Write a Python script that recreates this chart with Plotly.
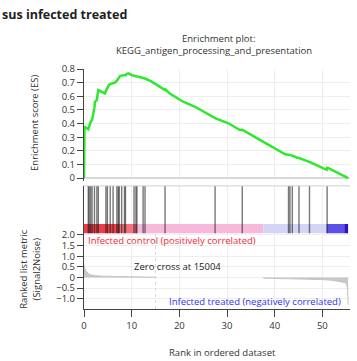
import plotly.graph_objects as go

# ---------------- data ----------------
es_x = [0, 0.1, 0.9, 1.1, 1.4, 1.7, 1.95, 2.2, 2.3, 2.66, 3.0, 3.7, 4.4, 4.6, 4.9, 5.2, 5.5, 5.8,
        6.5, 6.9, 7.2, 7.55, 8.24, 8.7, 9.0, 9.3, 10.0, 10.5, 11.05, 12.4, 12.8, 14.2, 15.9, 17.0,
        17.1, 18.0, 20.8, 23.3, 27.5, 28.5, 30.3, 32.7, 33.2, 36.9, 42.2, 42.9, 43.4, 44.6, 45.1,
        47.4, 50.9, 51.0, 51.3, 55.4]
es_y = [0, 0.377, 0.358, 0.39, 0.414, 0.426, 0.463, 0.52, 0.56, 0.572, 0.645, 0.633, 0.621, 0.64,
        0.66, 0.682, 0.69, 0.694, 0.70, 0.714, 0.73, 0.748, 0.755, 0.755, 0.765, 0.768, 0.755, 0.75,
        0.743, 0.731, 0.73, 0.707, 0.67, 0.645, 0.65, 0.62, 0.56, 0.523, 0.44, 0.426, 0.402, 0.353,
        0.355, 0.28, 0.175, 0.172, 0.168, 0.151, 0.147, 0.117, 0.061, 0.075, 0.073, 0.0]

hits = [0.9, 1.1, 1.4, 1.7, 2.2, 2.7, 3.0, 4.6, 4.9, 5.5, 6.1, 6.9, 7.2, 7.4, 7.9, 8.5, 8.7,
        10.5, 10.9, 11.1, 12.4, 12.8, 17.0, 27.5, 33.2, 42.9, 43.2, 43.7, 45.1, 47.3, 51.0]

band_start = [0, 7.5, 11.2, 37.6, 50.9, 54.6]
band_end = [7.5, 11.2, 37.6, 50.9, 54.6, 55.4]
band_colors = ["#f03c48", "#f4707c", "#f7b8dc", "#d4d4f7", "#5c50e6", "#2a10c8"]

metric_pos_x = [0, 0.2, 0.5, 1.0, 1.5, 2.5, 4, 6, 8, 10, 12, 15.2]
metric_pos_y = [0.6, 0.4, 0.28, 0.16, 0.12, 0.08, 0.06, 0.05, 0.04, 0.03, 0.02, 0.01]
metric_neg_x = [37.6, 40, 45, 50.2, 52, 53.7, 54.6, 55.1, 55.3, 55.4]
metric_neg_y = [-0.03, -0.04, -0.06, -0.1, -0.13, -0.19, -0.23, -0.3, -0.6, -1.28]

zero_cross = 15004
x_ticks = [0, 10, 20, 30, 40, 50]
metric_ticks = [-1.0, -0.5, 0, 0.5, 1.0, 1.5, 2.0]
metric_tick_text = ["\u22121.0", "\u22120.5", "0", "0.5", "1.0", "1.5", "2.0"]
es_ticks = [0, 0.1, 0.2, 0.3, 0.4, 0.5, 0.6, 0.7, 0.8]
es_tick_text = ["0", "0.1", "0.2", "0.3", "0.4", "0.5", "0.6", "0.7", "0.8"]

FONT = "Open Sans"
AX = "#444444"
GRID = "#eeeeee"

fig = go.Figure()

# ranked metric
fig.add_trace(go.Scatter(x=metric_pos_x, y=metric_pos_y, mode="lines", fill="tozeroy",
                         line=dict(color="#c4c4c4", width=1), fillcolor="#c8c8c8",
                         xaxis="x", yaxis="y", hoverinfo="skip"))
fig.add_trace(go.Scatter(x=metric_neg_x, y=metric_neg_y, mode="lines", fill="tozeroy",
                         line=dict(color="#c4c4c4", width=1), fillcolor="#c8c8c8",
                         xaxis="x", yaxis="y", hoverinfo="skip"))
fig.add_trace(go.Scatter(x=[zero_cross / 1000] * 2, y=[-1.48, 2.07], mode="lines",
                         line=dict(color="#d8d8d8", width=1, dash="dot"),
                         xaxis="x", yaxis="y", hoverinfo="skip"))

# colour band
fig.add_trace(go.Bar(x=[e - s for s, e in zip(band_start, band_end)], base=band_start,
                     y=[0.1] * len(band_start), orientation="h", width=0.2,
                     marker=dict(color=band_colors, line=dict(width=0)),
                     xaxis="x", yaxis="y2", hoverinfo="skip"))

# hits
hx, hy = [], []
for h in hits:
    hx += [h, h, None]
    hy += [0, 1, None]
fig.add_trace(go.Scatter(x=hx, y=hy, mode="lines", line=dict(color="rgba(30,30,30,0.6)", width=1.4),
                         xaxis="x", yaxis="y2", hoverinfo="skip"))

# ES curve
fig.add_trace(go.Scatter(x=es_x, y=es_y, mode="lines", line=dict(color="#2ee82e", width=2.5),
                         xaxis="x", yaxis="y3", hoverinfo="skip"))

fig.update_layout(
    width=357, height=361, autosize=False,
    margin=dict(l=84, r=7, t=69, b=52),
    paper_bgcolor="white", plot_bgcolor="white",
    showlegend=False,
    font=dict(family=FONT, size=9.5, color="#333333"),
    xaxis=dict(range=[0, 55.8], tickvals=x_ticks, ticks="outside", ticklen=7, tickcolor=AX,
               showline=True, linecolor=AX, linewidth=1.2, showgrid=True, gridcolor=GRID,
               zeroline=False, anchor="y", tickfont=dict(size=9.5, color="#333")),
    yaxis=dict(domain=[0, 0.315], range=[-1.48, 2.07], tickvals=metric_ticks,
               ticktext=metric_tick_text, ticks="outside", ticklen=6, tickcolor=AX,
               showline=True, linecolor=AX, linewidth=1.2, showgrid=True, gridcolor=GRID,
               zeroline=False, anchor="x"),
    yaxis2=dict(domain=[0.315, 0.513], range=[0, 1], showticklabels=False, ticks="",
                showline=True, linecolor=AX, linewidth=1.2, showgrid=False, zeroline=False,
                anchor="x"),
    yaxis3=dict(domain=[0.534, 1], range=[-0.02, 0.8], tickvals=es_ticks, ticktext=es_tick_text,
                ticks="outside", ticklen=6, tickcolor=AX, showline=True, linecolor=AX,
                linewidth=1.2, showgrid=True, gridcolor=GRID, zeroline=True,
                zerolinecolor="#d8d8d8", zerolinewidth=2, anchor="x"),
)

fig.add_shape(type="line", xref="paper", yref="y2 domain", x0=0, x1=1, y0=1, y1=1,
              line=dict(color="#d0d0d0", width=1))


def py(px):
    return (309.3 - px) / 240.3


def pxx(px):
    return (px - 84) / 266


ann = [
    dict(text="<b>sus infected treated</b>", x=pxx(0), y=py(14),
         xanchor="left", yanchor="middle", font=dict(size=12.5, color="#222")),
    dict(text="Enrichment plot:", x=pxx(218), y=py(38), xanchor="center", yanchor="middle",
         font=dict(size=9.5, color="#333")),
    dict(text="KEGG_antigen_processing_and_presentation", x=pxx(214), y=py(50),
         xanchor="center", yanchor="middle", font=dict(size=9.5, color="#333")),
    dict(text="Enrichment score (ES)", x=pxx(35), y=py(123), textangle=-90,
         xanchor="center", yanchor="middle", font=dict(size=9.5, color="#333")),
    dict(text="Ranked list metric<br>(Signal2Noise)", x=pxx(30), y=py(269), textangle=-90,
         xanchor="center", yanchor="middle", font=dict(size=9.5, color="#333")),
    dict(text="Infected control (positively correlated)", x=pxx(86), y=py(241),
         xanchor="left", yanchor="middle", font=dict(size=9.5, color="#f02a36")),
    dict(text="Zero cross at " + str(zero_cross), x=pxx(177), y=py(267),
         xanchor="center", yanchor="middle", font=dict(size=9.5, color="#222")),
    dict(text="Infected treated (negatively correlated)", x=pxx(343), y=py(302),
         xanchor="right", yanchor="middle", font=dict(size=9.5, color="#3030f0")),
    dict(text="Rank in ordered dataset", x=pxx(222), y=py(353),
         xanchor="center", yanchor="middle", font=dict(size=9.5, color="#333")),
]
for a in ann:
    a.update(xref="paper", yref="paper", showarrow=False)
    fig.add_annotation(**a)

fig.write_html("out.html")
